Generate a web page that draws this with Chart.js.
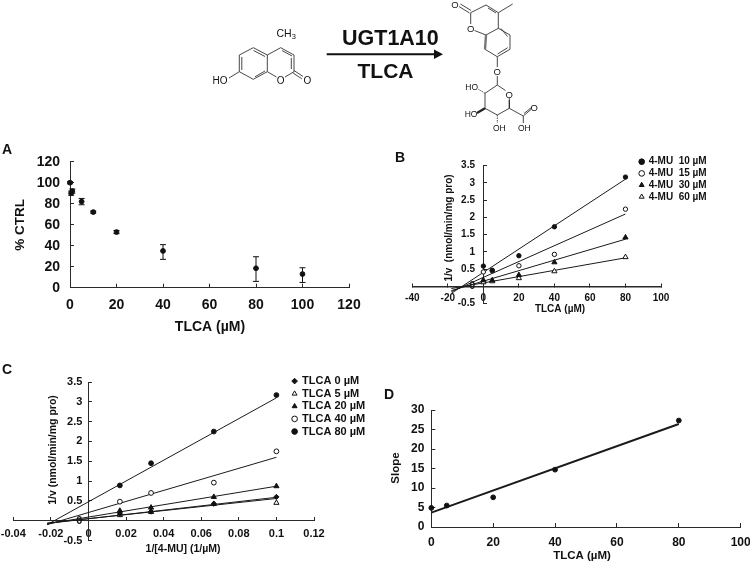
<!DOCTYPE html>
<html><head><meta charset="utf-8">
<style>
html,body{margin:0;padding:0;background:#fff;width:750px;height:563px;overflow:hidden}
#page{position:relative;width:750px;height:563px;filter:blur(0.35px)}
.panel{position:absolute}
svg{position:absolute;left:0;top:0}
svg text{font-family:"Liberation Sans",Arial,sans-serif;fill:#111}
svg .atom{text-anchor:middle;dominant-baseline:central}
</style>
<script src="https://cdn.jsdelivr.net/npm/chart.js@4/dist/chart.umd.min.js"></script>
</head><body>
<div id="page">
<svg width="750" height="135" viewBox="0 0 750 135">
 <g stroke="#333" stroke-width="0.9" fill="none">
  <path d="M239.3 71.7V55L253.3 47.7L267.3 55V71.7L253.3 79.3Z"/>
  <path d="M241.8 70V57M253.5 50.5L265 56.5M255 76.8L265 71"/>
  <path d="M267.3 55L280.7 47.7L294 55V71.7L285 77M276.5 77L267.3 71.7"/>
  <path d="M282 50.5L292 56M291.3 58V69"/>
  <path d="M294 70.5L303 76.5M292.8 72.8L301.8 78.8"/>
  <path d="M239.3 71.7L229 78"/>
 </g>
 <text class="atom" x="220" y="80.3" font-size="10">HO</text>
 <text x="276.5" y="37" font-size="10.5">CH<tspan font-size="7.5" dy="2">3</tspan></text>
 <text class="atom" x="280.7" y="80" font-size="10">O</text>
 <text class="atom" x="307.3" y="80" font-size="10">O</text>
 <text x="342" y="45" font-size="21.5" font-weight="700">UGT1A10</text>
 <text x="357.5" y="78" font-size="21" font-weight="700">TLCA</text>
 <path d="M326.7 54.3H437" stroke="#111" stroke-width="2"/>
 <path d="M443 54.3L434 49.5V59Z" fill="#111"/>
 <g stroke="#333" stroke-width="0.9" fill="none">
  <path d="M470.7 12.7L486 5L498.3 12.7V28.3L510 35V49.3L497.3 56.7L485 49.3M486 35L498.3 28.3"/>
  <path d="M488 8L496 13M501 28.5L507.5 36.5M507.7 47.7L497.5 54"/>
  <path d="M498.3 12.7L512.7 4"/>
  <path d="M470.7 12.7V24M474.5 30.5L486 35"/>
  <path d="M469.5 13L459 6.5M471 10.5L460.5 4"/>
  <path d="M497.3 56.7V67M497.3 76V85L505.5 90.5M509.3 98V108.3L497.3 115L485 108.3V93.3L497.3 85"/>
  <path d="M509.3 108.3L523.3 116M523.3 116L531 109.5M524 113.5L531.5 107.5M523.3 116V123"/>
  <path d="M497.3 115V123M485 93.3L478 89" stroke-dasharray="1.5 1"/>
 </g>
 <path d="M485 49.3L486 35" stroke="#777" stroke-width="2.4"/>
 <path d="M485 108.3L477 113" stroke="#222" stroke-width="2.2"/>
 <path d="M509.3 108.3V100" stroke="#222" stroke-width="1"/>
 <text class="atom" x="455" y="4.5" font-size="9.5">O</text>
 <text class="atom" x="470.7" y="28.3" font-size="9.5">O</text>
 <text class="atom" x="497.3" y="71.7" font-size="9.5">O</text>
 <text class="atom" x="509.3" y="94" font-size="9.5">O</text>
 <text class="atom" x="534.3" y="107.5" font-size="9.5">O</text>
 <text class="atom" x="471.7" y="87.3" font-size="8.5">HO</text>
 <text class="atom" x="471" y="114.3" font-size="8.5">HO</text>
 <text class="atom" x="499.3" y="128.3" font-size="8.5">OH</text>
 <text class="atom" x="524.3" y="128.3" font-size="8.5">OH</text>
</svg>
<div class="panel" style="left:0;top:135px;width:375px;height:205px"><canvas id="a"></canvas></div>
<div class="panel" style="left:375px;top:145px;width:375px;height:190px"><canvas id="b"></canvas></div>
<div class="panel" style="left:0;top:355px;width:375px;height:208px"><canvas id="c"></canvas></div>
<div class="panel" style="left:375px;top:380px;width:375px;height:183px"><canvas id="d"></canvas></div>
</div>
<script>
// ---- Panel A data
const aConc = [0, 0.5, 1, 5, 10, 20, 40, 80, 100];
const aPct  = [100, 90, 92, 82, 72, 53, 35, 18.5, 13];
const aLow  = [99, 88, 90, 79, 71, 51.5, 27, 6, 5];
const aHigh = [101, 92, 94, 85, 73, 54.5, 41, 29.5, 19];
// ---- Panel B data
const bTlca = [0, 5, 20, 40, 80];
const bMu10 = [0.59, 0.47, 0.89, 1.73, 3.17];
const bMu15 = [0.42, 0.45, 0.6, 0.93, 2.24];
const bMu30 = [0.18, 0.18, 0.33, 0.7, 1.42];
const bMu60 = [0.12, 0.15, 0.24, 0.44, 0.85];
const bFitX = [-18, 80];
const bFit10 = [-0.2, 3.11];
const bFit15 = [-0.15, 2.1];
const bFit30 = [-0.12, 1.37];
const bFit60 = [-0.06, 0.83];
// ---- Panel C data
const cInv = [0.0167, 0.0333, 0.0667, 0.1];
const cT0  = [0.17, 0.23, 0.43, 0.6];
const cT5  = [0.14, 0.22, 0.42, 0.45];
const cT20 = [0.25, 0.33, 0.6, 0.87];
const cT40 = [0.48, 0.7, 0.96, 1.75];
const cT80 = [0.89, 1.45, 2.25, 3.17];
const cFitX = [-0.022, 0.1];
const cFit0 = [-0.07, 0.59];
const cFit5 = [-0.06, 0.56];
const cFit20 = [-0.08, 0.87];
const cFit40 = [-0.1, 1.6];
const cFit80 = [-0.1, 3.1];
// ---- Panel D data
const dTlca = [0, 5, 20, 40, 80];
const dSlope = [4.9, 5.5, 7.6, 14.7, 27.3];
const dFitX = [0, 80];
const dFitY = [3.7, 26.4];

const INK = '#111', AXIS = '#2a2a2a', FAM = '"Liberation Sans", Arial, sans-serif';
const zip = (xs, ys) => xs.map((x, i) => ({x, y: ys[i]}));
const fmt = v => String(+Number(v).toFixed(2));
const noOverflow = s => { s.paddingLeft = s.paddingRight = s.paddingTop = s.paddingBottom = 0; };

function markers(label, xs, ys, style, open, r) {
  return {label, data: zip(xs, ys), showLine: false, clip: false, pointStyle: style,
    pointRadius: r, pointHoverRadius: r,
    backgroundColor: open ? '#fff' : INK, borderColor: INK, borderWidth: 1};
}
function fit(label, xs, ys, w) {
  return {label, data: zip(xs, ys), showLine: true, clip: false, pointRadius: 0,
    borderColor: '#1a1a1a', borderWidth: w || 1, backgroundColor: 'transparent'};
}
function axis(o) {
  return Object.assign({
    type: 'linear', min: o.min, max: o.max, afterFit: noOverflow,
    grid: {drawOnChartArea: false, drawTicks: true, tickLength: -4, color: AXIS, tickColor: AXIS, lineWidth: 1},
    border: {color: AXIS, width: o.bw || 1},
    ticks: {stepSize: o.step, autoSkip: false, maxRotation: 0, color: INK, padding: o.pad,
      font: {family: FAM, size: o.size, weight: 'bold'}, callback: o.cb || fmt}
  }, o.extra);
}
const panelText = {
  id: 'panelText',
  afterDraw(chart, _a, opts) {
    const ctx = chart.ctx;
    (opts.items || []).forEach(t => {
      ctx.save();
      ctx.translate(t.x, t.y);
      if (t.rot) ctx.rotate(-Math.PI / 2);
      ctx.font = `bold ${t.size}px ${FAM}`;
      ctx.fillStyle = INK;
      ctx.textAlign = t.align || 'center';
      ctx.textBaseline = 'middle';
      ctx.fillText(t.text, 0, 0);
      ctx.restore();
    });
  }
};
const legendPlace = {
  id: 'legendPlace',
  afterLayout(chart, _a, opts) {
    const l = chart.legend;
    if (!l || !opts.x) return;
    const w = l.width, h = l.height;
    l.left = opts.x; l.right = opts.x + w; l.top = opts.y; l.bottom = opts.y + h;
  }
};
function make(id, datasets, scales, padding, items, legend) {
  new Chart(document.getElementById(id), {
    type: 'scatter',
    data: {datasets},
    plugins: [panelText, legendPlace],
    options: {
      responsive: true, maintainAspectRatio: false, animation: false,
      layout: {padding},
      scales,
      plugins: {
        tooltip: {enabled: false},
        title: {display: false},
        legend: legend ? {
          display: true, position: 'chartArea', align: 'start',
          labels: {usePointStyle: true, boxWidth: 4, boxHeight: 4, padding: legend.gap, color: INK,
            font: {family: FAM, size: legend.size, weight: 'bold', lineHeight: 1},
            filter: i => !i.text.startsWith('fit')}
        } : {display: false},
        legendPlace: legend ? {x: legend.x, y: legend.y} : {},
        panelText: {items}
      }
    }
  });
}

// Panel A
const aBars = aConc.map((x, i) => ({
  label: 'fit err', data: [{x, y: aLow[i]}, {x, y: aHigh[i]}], showLine: true, clip: false,
  pointStyle: 'line', pointRadius: 3, pointBorderWidth: 1,
  borderColor: INK, borderWidth: 1, backgroundColor: INK}));
make('a',
  [markers('% CTRL', aConc, aPct, 'circle', false, 2.4), ...aBars],
  {
    x: axis({min: 0, max: 120, step: 20, size: 14, pad: 13, extra: {position: 'bottom', afterFit: s => { noOverflow(s); s.height = 52.3; }}}),
    y: axis({min: 0, max: 120, step: 20, size: 14, pad: 14, extra: {position: 'left', afterFit: s => { noOverflow(s); s.width = 70; }}})
  },
  {left: 0, top: 26.7, right: 26, bottom: 0},
  [{text: 'A', x: 7, y: 15, size: 14},
   {text: 'TLCA (µM)', x: 210, y: 192, size: 14},
   {text: '% CTRL', x: 20, y: 90, size: 13.5, rot: true}]);

// Panel B
make('b',
  [markers('4-MU  10 µM', bTlca, bMu10, 'circle', false, 2.2),
   markers('4-MU  15 µM', bTlca, bMu15, 'circle', true, 2.2),
   markers('4-MU  30 µM', bTlca, bMu30, 'triangle', false, 3),
   markers('4-MU  60 µM', bTlca, bMu60, 'triangle', true, 3),
   fit('fit 10', bFitX, bFit10), fit('fit 15', bFitX, bFit15),
   fit('fit 30', bFitX, bFit30), fit('fit 60', bFitX, bFit60)],
  {
    x: axis({min: -40, max: 100, step: 20, size: 10, pad: 10, bw: 1.5, extra: {position: {y: 0}}}),
    y: axis({min: -0.5, max: 3.5, step: 0.5, size: 10, cb: v => fmt(v) + '   ', extra: {position: {x: 0}}})
  },
  {left: 37.3, top: 20.7, right: 89, bottom: 31.3},
  [{text: 'B', x: 25, y: 13, size: 14},
   {text: 'TLCA (µM)', x: 185, y: 164, size: 10},
   {text: '1/v  (nmol/min/mg pro)', x: 74, y: 83, size: 10, rot: true}],
  {x: 263, y: 10, size: 10, gap: 1.7});

// Panel C
make('c',
  [markers('TLCA 0 µM', cInv, cT0, 'rectRot', false, 2.6),
   markers('TLCA 5 µM', cInv, cT5, 'triangle', true, 3),
   markers('TLCA 20 µM', cInv, cT20, 'triangle', false, 3),
   markers('TLCA 40 µM', cInv, cT40, 'circle', true, 2.4),
   markers('TLCA 80 µM', cInv, cT80, 'circle', false, 2.4),
   fit('fit 0', cFitX, cFit0), fit('fit 5', cFitX, cFit5), fit('fit 20', cFitX, cFit20),
   fit('fit 40', cFitX, cFit40), fit('fit 80', cFitX, cFit80)],
  {
    x: axis({min: -0.04, max: 0.12, step: 0.02, size: 11, pad: 11, extra: {position: {y: 0}}}),
    y: axis({min: -0.5, max: 3.5, step: 0.5, size: 11, cb: v => fmt(v) + '  ', extra: {position: {x: 0}}})
  },
  {left: 13.3, top: 27, right: 61, bottom: 22.5},
  [{text: 'C', x: 7, y: 15, size: 14},
   {text: '1/[4-MU] (1/µM)', x: 183, y: 194, size: 10.5},
   {text: '1/v (nmol/min/mg pro)', x: 53, y: 95, size: 10.5, rot: true}],
  {x: 291, y: 19, size: 11, gap: 1.6});

// Panel D
make('d',
  [markers('Slope', dTlca, dSlope, 'circle', false, 2.4),
   fit('fit', dFitX, dFitY, 2)],
  {
    x: axis({min: 0, max: 100, step: 20, size: 12, pad: 12, extra: {position: 'bottom', afterFit: s => { noOverflow(s); s.height = 36; }}}),
    y: axis({min: 0, max: 30, step: 5, size: 12, pad: 11, extra: {position: 'left', afterFit: s => { noOverflow(s); s.width = 56.3; }}})
  },
  {left: 0, top: 30, right: 9.3, bottom: 0},
  [{text: 'D', x: 14, y: 15, size: 14},
   {text: 'TLCA (µM)', x: 207, y: 176, size: 11.5},
   {text: 'Slope', x: 21, y: 88, size: 11.5, rot: true}]);
</script>
</body></html>
